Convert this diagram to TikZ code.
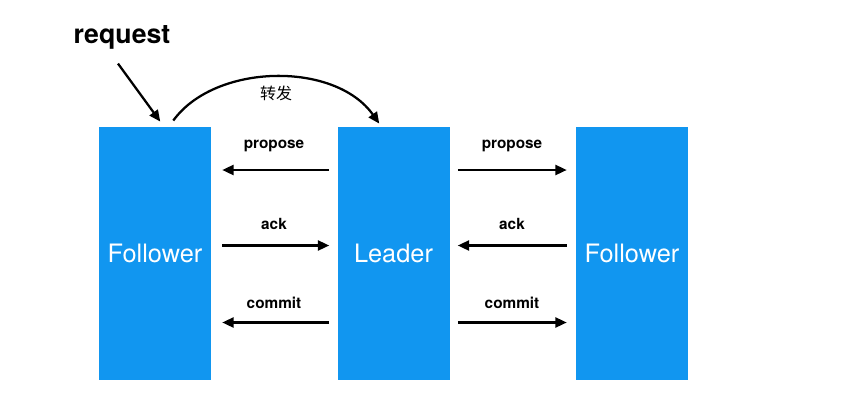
\documentclass[tikz,border=0pt]{standalone}
\usepackage{fontspec}
\setmainfont{TeX Gyre Heros}
\newfontfamily\zhfont{Noto Sans CJK SC}
\usetikzlibrary{arrows.meta, positioning}
\definecolor{zkBlue}{HTML}{1196F0}

\begin{document}
\begin{tikzpicture}[
  x=0.75pt, y=-0.75pt,
  box/.style={fill=zkBlue, minimum width=84pt, minimum height=190pt, inner sep=0pt, font=\fontsize{19}{22}\selectfont, text=white},
  lbl/.style={font=\bfseries\fontsize{11.5}{13}\selectfont, anchor=base},
  arr/.style={-{Triangle[length=8.5pt, width=7.5pt]}, line width=1.7pt}
]
\useasboundingbox (0,0) rectangle (860,415);

% three servers
\node[box] (lf) at (155,253.5) {Follower};
\node[box] (ld) at (393.5,253.5) {Leader};
\node[box] (rf) at (632,253.5) {Follower};

% client request and forwarding
\node[font=\bfseries\fontsize{20}{24}\selectfont] (req) at (122,37) {request};
\draw[arr] ([shift={(-4,10)}]req.south) -- ([shift={(-51,-5)}]lf.north east);
\draw[arr] ([shift={(-38,-6)}]lf.north east) .. controls (215,63) and (335,61) .. ([shift={(42,-3)}]ld.north west);
\node[font=\zhfont\fontsize{12}{14}\selectfont] (fwd) at (276,93) {转发};

% left follower <-> leader
\draw[arr] ([shift={(-8,-83.5)}]ld.west) -- ([shift={(11,-83.5)}]lf.east);
\draw[arr] ([shift={(11,-8)}]lf.east) -- ([shift={(-8,-8)}]ld.west);
\draw[arr] ([shift={(-8,69)}]ld.west) -- ([shift={(11,69)}]lf.east);
\node[lbl] (p1) at (274,148) {propose};
\node[lbl] (a1) at (274,229) {ack};
\node[lbl] (c1) at (274,308) {commit};

% leader <-> right follower
\draw[arr] ([shift={(8,-83.5)}]ld.east) -- ([shift={(-9,-83.5)}]rf.west);
\draw[arr] ([shift={(-9,-8)}]rf.west) -- ([shift={(8,-8)}]ld.east);
\draw[arr] ([shift={(8,69)}]ld.east) -- ([shift={(-9,69)}]rf.west);
\node[lbl] (p2) at (512,148) {propose};
\node[lbl] (a2) at (512,229) {ack};
\node[lbl] (c2) at (512,308) {commit};
\end{tikzpicture}
\end{document}
